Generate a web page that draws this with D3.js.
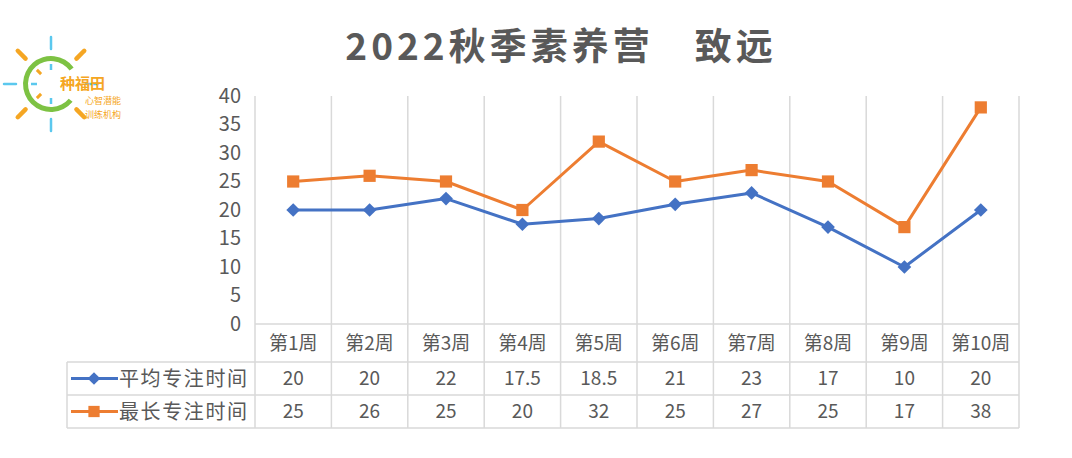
<!DOCTYPE html>
<html>
<head>
<meta charset="utf-8">
<script src="https://cdn.jsdelivr.net/npm/d3@7"></script>
<style>
  body { margin: 0; background: #fff; }
  svg { display: block; font-family: "Noto Sans CJK SC", "Noto Sans", sans-serif; }
</style>
</head>
<body>
<div id="chart"></div>
<script>
const weeks = ["第1周", "第2周", "第3周", "第4周", "第5周", "第6周", "第7周", "第8周", "第9周", "第10周"];
const avgFocus = [20, 20, 22, 17.5, 18.5, 21, 23, 17, 10, 20];
const maxFocus = [25, 26, 25, 20, 32, 25, 27, 25, 17, 38];
const yTicks = [0, 5, 10, 15, 20, 25, 30, 35, 40];
const seriesNames = ["平均专注时间", "最长专注时间"];
const title = "2022秋季素养营　致远";

const W = 1072, H = 458;
const plot = { left: 255, right: 1019, top: 96, bottom: 324 };
const rowH = [38, 33, 33]; // header row, series rows
const legendLeft = 67;
const textColor = "#595959";
const gridColor = "#d9d9d9";
const colors = ["#4472C4", "#ED7D31"];

const svg = d3.select("#chart").append("svg").attr("width", W).attr("height", H);

// title
svg.append("text")
  .attr("x", 561).attr("y", 60)
  .attr("text-anchor", "middle")
  .attr("font-size", 37).attr("font-weight", "bold")
  .attr("letter-spacing", 4)
  .attr("fill", textColor)
  .text(title);

// logo
const logo = svg.append("g").attr("transform", "translate(51,84)");
const orange = "#F5A623", blue = "#5BC8EE";
d3.range(8).forEach((i) => {
  const a = i * 45;
  const rad = (a - 90) * Math.PI / 180;
  const cardinal = a % 90 === 0;
  const r1 = cardinal ? 35 : 36, r2 = 47;
  logo.append("line")
    .attr("x1", Math.cos(rad) * r1).attr("y1", Math.sin(rad) * r1)
    .attr("x2", Math.cos(rad) * r2).attr("y2", Math.sin(rad) * r2)
    .attr("stroke", cardinal ? blue : orange)
    .attr("stroke-width", cardinal ? 2.5 : 4.5)
    .attr("stroke-linecap", "round");
  if (a !== 90 && a !== 45 && a !== 135) {
    logo.append("line")
      .attr("x1", Math.cos(rad) * 14).attr("y1", Math.sin(rad) * 14)
      .attr("x2", Math.cos(rad) * 20).attr("y2", Math.sin(rad) * 20)
      .attr("stroke", cardinal ? blue : orange)
      .attr("stroke-width", cardinal ? 2.5 : 3);
  }
});
logo.append("path")
  .attr("d", d3.arc().innerRadius(23).outerRadius(28).startAngle(Math.PI * 0.72).endAngle(Math.PI * 2.3)())
  .attr("fill", "#7DC243");
logo.append("text").attr("x", 9).attr("y", 5)
  .attr("font-size", 15).attr("font-weight", "bold").attr("fill", orange).text("种福田");
logo.append("text").attr("x", 34).attr("y", 20)
  .attr("font-size", 9).attr("fill", orange).text("心智潜能");
logo.append("text").attr("x", 34).attr("y", 33.5)
  .attr("font-size", 9).attr("fill", orange).text("训练机构");

// scales
const x = d3.scaleBand().domain(weeks).range([plot.left, plot.right]);
const y = d3.scaleLinear().domain([0, 40]).range([plot.bottom, plot.top]);

// vertical gridlines (category separators)
const edges = weeks.map((w) => x(w)).concat([plot.right]);
svg.append("g").selectAll("line").data(edges).enter().append("line")
  .attr("x1", (d) => d).attr("x2", (d) => d)
  .attr("y1", plot.top).attr("y2", plot.bottom + d3.sum(rowH))
  .attr("stroke", gridColor).attr("stroke-width", 1.5);

// y axis labels
const yAxis = svg.append("g")
  .attr("transform", `translate(${plot.left - 14},0)`)
  .call(d3.axisLeft(y).tickValues(yTicks).tickSize(0).tickPadding(0));
yAxis.select(".domain").remove();
yAxis.selectAll("text")
  .attr("font-size", 20).attr("fill", textColor)
  .attr("font-family", "'Noto Sans CJK SC', sans-serif");

// data table
const tableTop = plot.bottom;
const rowTops = [tableTop, tableTop + rowH[0], tableTop + rowH[0] + rowH[1], tableTop + d3.sum(rowH)];
const table = svg.append("g");
table.append("line")
  .attr("x1", plot.left).attr("x2", plot.right)
  .attr("y1", rowTops[0]).attr("y2", rowTops[0])
  .attr("stroke", gridColor).attr("stroke-width", 1.5);
[1, 2, 3].forEach((i) => {
  table.append("line")
    .attr("x1", legendLeft).attr("x2", plot.right)
    .attr("y1", rowTops[i]).attr("y2", rowTops[i])
    .attr("stroke", gridColor).attr("stroke-width", 1.5);
});
table.append("line")
  .attr("x1", legendLeft).attr("x2", legendLeft)
  .attr("y1", rowTops[1]).attr("y2", rowTops[3])
  .attr("stroke", gridColor).attr("stroke-width", 1.5);

table.selectAll(".head").data(weeks).enter().append("text")
  .attr("class", "head")
  .attr("x", (d) => x(d) + x.bandwidth() / 2)
  .attr("y", rowTops[0] + rowH[0] / 2)
  .attr("dy", "0.35em")
  .attr("text-anchor", "middle")
  .attr("font-size", 19).attr("fill", textColor)
  .text((d) => d);

const series = [avgFocus, maxFocus];
const markerSize = [120, 190];
series.forEach((vals, si) => {
  const cy = rowTops[si + 1] + rowH[si + 1] / 2;
  table.selectAll(".v" + si).data(vals).enter().append("text")
    .attr("x", (d, i) => x(weeks[i]) + x.bandwidth() / 2)
    .attr("y", cy).attr("dy", "0.35em")
    .attr("text-anchor", "middle")
    .attr("font-size", 19).attr("fill", textColor)
    .text((d) => d);

  // legend key
  table.append("line")
    .attr("x1", 71).attr("x2", 118).attr("y1", cy).attr("y2", cy)
    .attr("stroke", colors[si]).attr("stroke-width", 3);
  table.append("path")
    .attr("transform", `translate(94,${cy})`)
    .attr("d", d3.symbol(si === 0 ? d3.symbolDiamond2 : d3.symbolSquare2, markerSize[si] * 0.85)())
    .attr("fill", colors[si]);
  table.append("text")
    .attr("x", 119).attr("y", cy).attr("dy", "0.35em")
    .attr("font-size", 20).attr("fill", textColor)
    .attr("textLength", 128).attr("lengthAdjust", "spacing")
    .text(seriesNames[si]);
});

// lines and markers
const line = d3.line().x((d, i) => x(weeks[i]) + x.bandwidth() / 2).y((d) => y(d));
series.forEach((vals, si) => {
  svg.append("path").datum(vals)
    .attr("d", line)
    .attr("fill", "none")
    .attr("stroke", colors[si]).attr("stroke-width", 3)
    .attr("stroke-linejoin", "round");
  svg.append("g").selectAll("path").data(vals).enter().append("path")
    .attr("transform", (d, i) => `translate(${x(weeks[i]) + x.bandwidth() / 2},${y(d)})`)
    .attr("d", d3.symbol(si === 0 ? d3.symbolDiamond2 : d3.symbolSquare2, markerSize[si])())
    .attr("fill", colors[si]);
});
</script>
</body>
</html>
